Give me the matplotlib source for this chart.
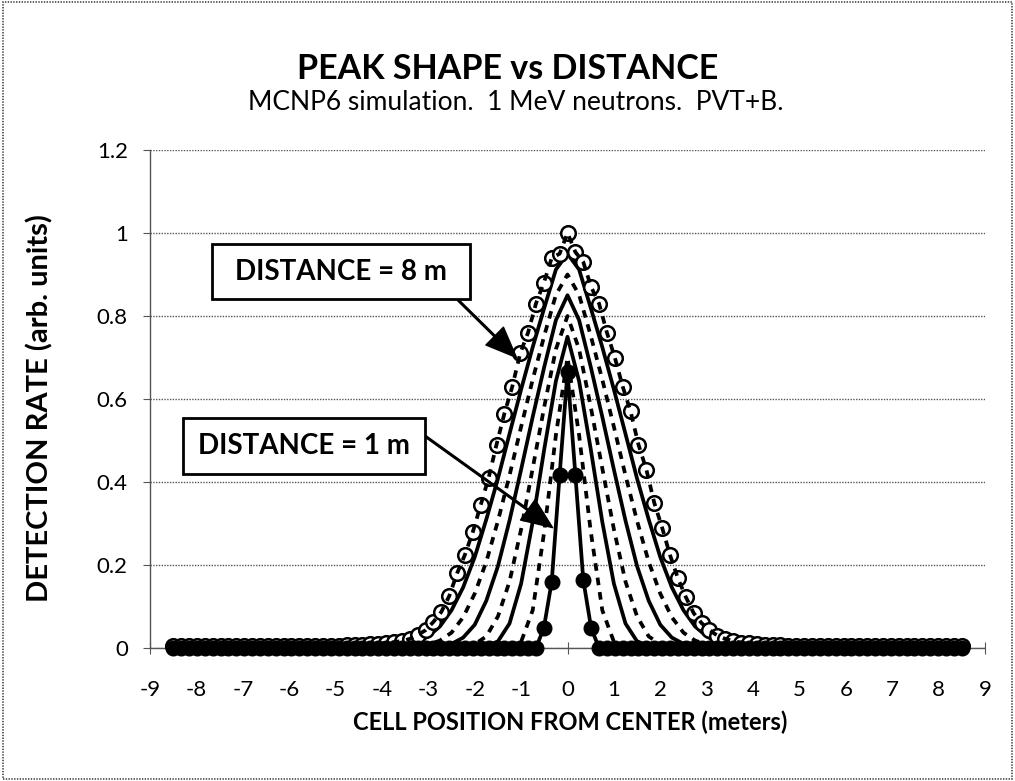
import numpy as np
import matplotlib
matplotlib.use('Agg')
import matplotlib.pyplot as plt
from matplotlib.patches import Rectangle

plt.rcParams['font.family'] = ['Lato', 'DejaVu Sans']
plt.rcParams['axes.unicode_minus'] = False
plt.rcParams['lines.scale_dashes'] = False

# ---------------- text ----------------
title = "PEAK SHAPE vs DISTANCE"
subtitle = "MCNP6 simulation.  1 MeV neutrons.  PVT+B."
xlabel = "CELL POSITION FROM CENTER (meters)"
ylabel = "DETECTION RATE (arb. units)"
label_8m = "DISTANCE = 8 m"
label_1m = "DISTANCE = 1 m"
x_ticks = list(range(-9, 10))
y_ticks = [0, 0.2, 0.4, 0.6, 0.8, 1.0, 1.2]
y_ticklabels = ['0', '0.2', '0.4', '0.6', '0.8', '1', '1.2']

# ---------------- data ----------------
# cell positions (101 cells)
cell_x = np.round(np.linspace(-8.5, 8.5, 101), 3)

# 8 m simulation points (open circles)
rate_8m = [
    0.004, 0.004, 0.004, 0.004, 0.004, 0.004, 0.004, 0.004, 0.004, 0.004,
    0.004, 0.004, 0.004, 0.004, 0.004, 0.004, 0.004, 0.004, 0.004, 0.004,
    0.005, 0.006, 0.007, 0.008, 0.008, 0.009, 0.010, 0.012, 0.014, 0.017,
    0.022, 0.031, 0.043, 0.063, 0.087, 0.125, 0.18, 0.225, 0.28, 0.345,
    0.41, 0.49, 0.565, 0.63, 0.71, 0.76, 0.83, 0.88, 0.94, 0.95,
    1.00,
    0.954, 0.93, 0.87, 0.83, 0.76, 0.70, 0.63, 0.57, 0.49, 0.43,
    0.35, 0.29, 0.224, 0.168, 0.123, 0.084, 0.06, 0.043, 0.03, 0.022,
    0.017, 0.013, 0.011, 0.009, 0.008, 0.008, 0.007, 0.006, 0.005, 0.005,
    0.004, 0.004, 0.004, 0.004, 0.004, 0.004, 0.004, 0.004, 0.004, 0.004,
    0.004, 0.004, 0.004, 0.004, 0.004, 0.004, 0.004, 0.004, 0.004, 0.004,
]

# 1 m simulation points (filled circles)
rate_1m = [
    0, 0, 0, 0, 0, 0, 0, 0, 0, 0,
    0, 0, 0, 0, 0, 0, 0, 0, 0, 0,
    0, 0, 0, 0, 0, 0, 0, 0, 0, 0,
    0, 0, 0, 0, 0, 0, 0, 0, 0, 0,
    0, 0, 0, 0, 0, 0, 0,
    0.048, 0.16, 0.417, 0.665, 0.417, 0.164, 0.048,
    0, 0, 0, 0, 0, 0, 0, 0, 0, 0,
    0, 0, 0, 0, 0, 0, 0, 0, 0, 0,
    0, 0, 0, 0, 0, 0, 0, 0, 0, 0,
    0, 0, 0, 0, 0, 0, 0, 0, 0, 0,
    0, 0, 0, 0, 0, 0, 0,
]

# intermediate distances (lines only)
line_x = [-8.5, -4.0, -3.75, -3.5, -3.25, -3.0, -2.75, -2.5, -2.25, -2.0, -1.75,
          -1.5, -1.25, -1.0, -0.75, -0.5, -0.25, 0.0, 0.25, 0.5, 0.75, 1.0,
          1.25, 1.5, 1.75, 2.0, 2.25, 2.5, 2.75, 3.0, 3.25, 3.5, 3.75, 4.0, 8.5]

rate_7m = [0.0, 0.0, 0.003, 0.007, 0.013, 0.028, 0.052, 0.091, 0.146, 0.219, 0.31,
           0.408, 0.516, 0.623, 0.725, 0.82, 0.912, 0.95, 0.912, 0.82, 0.725,
           0.623, 0.516, 0.408, 0.31, 0.219, 0.146, 0.091, 0.052, 0.028, 0.013,
           0.007, 0.003, 0.0, 0.0]
rate_6m = [0.0, 0.0, 0.0, 0.0, 0.003, 0.008, 0.018, 0.037, 0.074, 0.131, 0.208,
           0.306, 0.416, 0.533, 0.647, 0.753, 0.851, 0.90, 0.851, 0.753, 0.647,
           0.533, 0.416, 0.306, 0.208, 0.131, 0.074, 0.037, 0.018, 0.008, 0.003,
           0.0, 0.0, 0.0, 0.0]
rate_5m = [0.0, 0.0, 0.0, 0.0, 0.0, 0.0, 0.003, 0.010, 0.025, 0.056, 0.114,
           0.197, 0.307, 0.43, 0.557, 0.678, 0.79, 0.85, 0.79, 0.678, 0.557,
           0.43, 0.307, 0.197, 0.114, 0.056, 0.025, 0.010, 0.003, 0.0, 0.0,
           0.0, 0.0, 0.0, 0.0]
rate_4m = [0.0, 0.0, 0.0, 0.0, 0.0, 0.0, 0.0, 0.0, 0.003, 0.009, 0.028,
           0.076, 0.16, 0.286, 0.433, 0.582, 0.72, 0.80, 0.72, 0.582, 0.433,
           0.286, 0.16, 0.076, 0.028, 0.009, 0.003, 0.0, 0.0, 0.0, 0.0,
           0.0, 0.0, 0.0, 0.0]
rate_3m = [0.0, 0.0, 0.0, 0.0, 0.0, 0.0, 0.0, 0.0, 0.0, 0.0, 0.004,
           0.016, 0.059, 0.155, 0.304, 0.48, 0.643, 0.75, 0.643, 0.48, 0.304,
           0.155, 0.059, 0.016, 0.004, 0.0, 0.0, 0.0, 0.0, 0.0, 0.0,
           0.0, 0.0, 0.0, 0.0]
rate_2m = [0.0, 0.0, 0.0, 0.0, 0.0, 0.0, 0.0, 0.0, 0.0, 0.0, 0.0,
           0.0, 0.0, 0.015, 0.091, 0.282, 0.513, 0.70, 0.513, 0.282, 0.091,
           0.015, 0.0, 0.0, 0.0, 0.0, 0.0, 0.0, 0.0, 0.0, 0.0,
           0.0, 0.0, 0.0, 0.0]

# ---------------- figure ----------------
W, H = 1015, 781
fig = plt.figure(figsize=(W / 100, H / 100), dpi=100)
fig.patch.set_facecolor('white')

def fx(px):
    return px / W

def fy(py):
    return 1 - py / H

ax = fig.add_axes([fx(150), fy(648), fx(985) - fx(150), fy(150) - fy(648)])
ax.set_xlim(-9, 9)
ax.set_ylim(0, 1.2)

LW = 2.7
MS = 10.5
dash = (0, (5.5, 5))

ax.plot(line_x, rate_7m, color='black', lw=LW, ls='-', zorder=2)
ax.plot(line_x, rate_6m, color='black', lw=LW, ls=dash, zorder=2)
ax.plot(line_x, rate_5m, color='black', lw=LW, ls='-', zorder=2)
ax.plot(line_x, rate_4m, color='black', lw=LW, ls=dash, zorder=2)
ax.plot(line_x, rate_3m, color='black', lw=LW, ls='-', zorder=2)
ax.plot(line_x, rate_2m, color='black', lw=LW, ls=dash, zorder=2)

# 8 m: open circles with dashed line
ax.plot(cell_x, rate_8m, ls='none', marker='o', ms=MS, mfc='white', mec='black',
        mew=1.8, zorder=3, clip_on=False)
ax.plot(cell_x, rate_8m, color='black', lw=LW, ls=dash, zorder=3.5, clip_on=False)

# 1 m: filled circles with solid line
ax.plot(cell_x, rate_1m, color='black', lw=LW, ls='-', marker='o', ms=MS,
        mfc='black', mec='black', zorder=4, clip_on=False)

# axes styling
for s in ['top', 'right']:
    ax.spines[s].set_visible(False)
for s in ['left', 'bottom']:
    ax.spines[s].set_linestyle((0, (1, 1)))
    ax.spines[s].set_color('#555555')
    ax.spines[s].set_linewidth(1.0)

ax.set_yticks(y_ticks)
ax.set_yticklabels(y_ticklabels)
ax.set_xticks(x_ticks)
ax.set_xticklabels([str(t) for t in x_ticks])
ax.yaxis.grid(True, linestyle=(0, (1, 1)), color='#555555', lw=1.0)
ax.set_axisbelow(True)
ax.tick_params(axis='y', direction='out', length=5, color='#555555',
               labelsize=16, pad=11)
ax.tick_params(axis='x', direction='inout', length=8, color='#555555',
               labelsize=16, pad=19)

# titles and labels
fig.text(fx(508), fy(69), title, ha='center', va='center', fontsize=24.5,
         fontweight='bold')
fig.text(fx(516), fy(102), subtitle, ha='center', va='center', fontsize=19)
fig.text(fx(570), fy(722), xlabel, ha='center', va='center', fontsize=17,
         fontweight='bold')
fig.text(fx(40), fy(408), ylabel, ha='center', va='center', fontsize=21,
         fontweight='bold', rotation=90)

# annotation boxes
def box(x0, y0, x1, y1, text):
    r = Rectangle((fx(x0), fy(y1)), fx(x1) - fx(x0), fy(y0) - fy(y1),
                  transform=fig.transFigure, facecolor='white',
                  edgecolor='black', lw=2.0, zorder=5)
    fig.add_artist(r)
    fig.text(fx((x0 + x1) / 2), fy((y0 + y1) / 2), text, ha='center',
             va='center', fontsize=20, fontweight='bold', zorder=6)

box(212, 244, 470, 299, label_8m)
box(183, 418, 425, 474, label_1m)

arrow_kw = dict(facecolor='black', edgecolor='black', width=1.2,
                headwidth=18, headlength=22, shrink=0)
ax.annotate('', xy=(-1.10, 0.70), xycoords='data',
            xytext=(fx(458), fy(300)), textcoords='figure fraction',
            arrowprops=arrow_kw, zorder=6)
ax.annotate('', xy=(-0.32, 0.29), xycoords='data',
            xytext=(fx(425), fy(436)), textcoords='figure fraction',
            arrowprops=arrow_kw, zorder=6)

# outer dotted chart border
border = Rectangle((0.003, 0.003), 0.994, 0.994, transform=fig.transFigure,
                   fill=False, edgecolor='#444444', lw=1.2, ls=(0, (1, 1)))
fig.add_artist(border)

fig.savefig('out.png', dpi=100)
